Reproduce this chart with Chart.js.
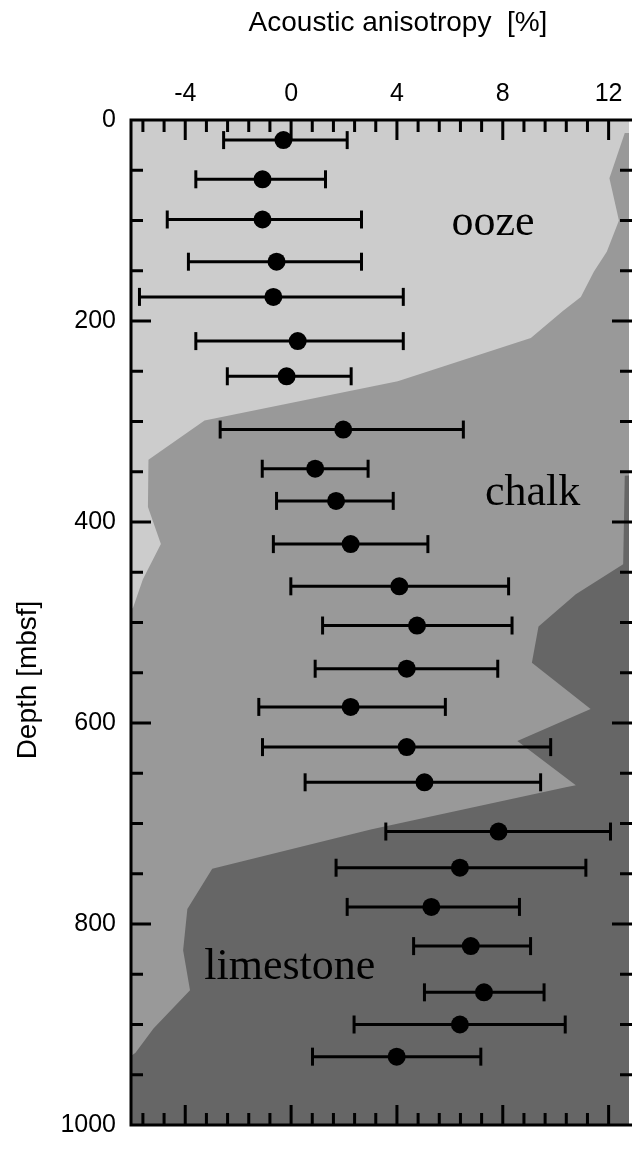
<!DOCTYPE html>
<html>
<head>
<meta charset="utf-8">
<script src="https://cdn.jsdelivr.net/npm/chart.js@4.4.1/dist/chart.umd.min.js"></script>
<style>
  html, body { margin: 0; padding: 0; background: #fff; overflow: hidden; }
  #wrap { width: 641px; height: 1155px; overflow: hidden; }
</style>
</head>
<body>
<div id="wrap"><canvas id="chart" width="641" height="1155"></canvas></div>
<script>
// measurements: depth (mbsf), anisotropy (%) and error bar ends
const depth   = [20, 59, 99, 141, 176, 220, 255, 308, 347, 379, 422, 464, 503, 546, 584, 624, 659, 708, 744, 783, 822, 868, 900, 932];
const aniso   = [-0.29, -1.08, -1.08, -0.55, -0.67, 0.25, -0.17, 1.97, 0.91, 1.70, 2.25, 4.09, 4.76, 4.37, 2.25, 4.37, 5.04, 7.84, 6.38, 5.30, 6.79, 7.29, 6.38, 3.99];
const errLow  = [-2.55, -3.60, -4.68, -3.88, -5.73, -3.60, -2.41, -2.68, -1.09, -0.55, -0.67, -0.01, 1.19, 0.91, -1.22, -1.08, 0.53, 3.58, 1.70, 2.12, 4.63, 5.04, 2.38, 0.81];
const errHigh = [2.12, 1.30, 2.66, 2.66, 4.24, 4.24, 2.27, 6.51, 2.91, 3.86, 5.17, 8.22, 8.35, 7.81, 5.83, 9.81, 9.43, 12.07, 11.14, 8.63, 9.05, 9.56, 10.36, 7.17];

// lithology outlines (x = anisotropy axis, y = depth)
const chalkX     = [13.5, 12.61, 12.03, 12.39, 11.93, 11.44, 10.95, 10.27, 9.06, 4.03, -3.27, -5.39, -5.41, -4.92, -5.60, -5.97, -6.5, -6.5, 13.5];
const chalkDepth = [13, 13, 58, 100, 131, 151, 176, 190, 217, 260, 299, 338, 385, 422, 457, 485, 500, 1010, 1010];
const limeX      = [13.5, 12.61, 12.55, 10.76, 9.35, 9.10, 11.32, 8.55, 10.76, 10.38, 3.01, -2.98, -3.92, -4.08, -3.82, -5.20, -5.88, -6.5, -6.5, 13.5];
const limeDepth  = [352, 354, 442, 472, 504, 540, 586, 618, 662, 664, 706, 745, 785, 826, 866, 904, 928, 940, 1010, 1010];

const xTickLabels = [-4, 0, 4, 8, 12];
const yTickLabels = [0, 200, 400, 600, 800, 1000];

const toPts = (xs, ys) => xs.map((v, i) => ({x: v, y: ys[i]}));
const isIn = (list, v) => list.some(t => Math.abs(t - v) < 1e-6);

const errBars = [];
depth.forEach((d, i) => {
    errBars.push({x: errLow[i], y: d}, {x: errHigh[i], y: d}, {x: null, y: null});
});

// the right frame line of the original lies just past the window edge
const RIGHT_OFF = 3;

const frame = {
    id: 'frame',
    beforeDatasetsDraw(chart) {
        const {ctx, chartArea: a} = chart;
        ctx.save();
        ctx.fillStyle = '#cccccc'; // ooze
        ctx.fillRect(a.left, a.top, a.width, a.height);
        ctx.restore();
    },
    afterDraw(chart) {
        const {ctx, chartArea: a, scales: {x, y}} = chart;
        const rx = a.right + RIGHT_OFF;
        ctx.save();
        ctx.strokeStyle = '#000';
        ctx.lineWidth = 3;
        ctx.beginPath();
        x.ticks.forEach(t => {
            const px = x.getPixelForValue(t.value);
            if (px < a.left + 2 || px > a.right) return;
            const len = isIn(xTickLabels, t.value) ? 20 : 12;
            ctx.moveTo(px, a.top); ctx.lineTo(px, a.top + len);
            ctx.moveTo(px, a.bottom); ctx.lineTo(px, a.bottom - len);
        });
        y.ticks.forEach(t => {
            const py = y.getPixelForValue(t.value);
            if (py < a.top + 2 || py > a.bottom - 2) return;
            const len = isIn(yTickLabels, t.value) ? 20 : 12;
            ctx.moveTo(a.left, py); ctx.lineTo(a.left + len, py);
            ctx.moveTo(rx, py); ctx.lineTo(rx - len, py);
        });
        // left, top and bottom frame lines
        ctx.moveTo(rx, a.top); ctx.lineTo(a.left, a.top); ctx.lineTo(a.left, a.bottom); ctx.lineTo(rx, a.bottom);
        ctx.stroke();

        // axis titles
        ctx.fillStyle = '#000';
        ctx.font = '28px "Liberation Sans", Arial, sans-serif';
        ctx.textAlign = 'center';
        ctx.textBaseline = 'alphabetic';
        ctx.fillText('Acoustic anisotropy  [%]', 398, 31);
        ctx.save();
        ctx.translate(28, 680);
        ctx.rotate(-Math.PI / 2);
        ctx.textBaseline = 'middle';
        ctx.fillText('Depth [mbsf]', 0, 0);
        ctx.restore();

        // lithology names
        ctx.font = '44px "Liberation Serif", "Times New Roman", serif';
        ctx.textAlign = 'left';
        ctx.textBaseline = 'alphabetic';
        ctx.fillText('ooze', x.getPixelForValue(6.06), y.getPixelForValue(114));
        ctx.fillText('chalk', x.getPixelForValue(7.33), y.getPixelForValue(383));
        ctx.fillText('limestone', x.getPixelForValue(-3.28), y.getPixelForValue(855));
        ctx.restore();
    }
};

new Chart(document.getElementById('chart'), {
    type: 'line',
    data: {
        datasets: [
            {
                label: 'chalk',
                data: toPts(chalkX, chalkDepth),
                backgroundColor: '#999999',
                borderWidth: 0,
                pointRadius: 0,
                fill: 'shape',
                tension: 0,
                order: 4
            },
            {
                label: 'limestone',
                data: toPts(limeX, limeDepth),
                backgroundColor: '#666666',
                borderWidth: 0,
                pointRadius: 0,
                fill: 'shape',
                tension: 0,
                order: 3
            },
            {
                label: 'error',
                data: errBars,
                borderColor: '#000',
                borderWidth: 3,
                spanGaps: false,
                fill: false,
                pointStyle: 'line',
                rotation: 90,
                pointRadius: 9,
                pointBorderWidth: 3,
                pointBorderColor: '#000',
                order: 2
            },
            {
                label: 'anisotropy',
                data: toPts(aniso, depth),
                showLine: false,
                pointRadius: 9,
                pointBackgroundColor: '#000',
                pointBorderWidth: 0,
                order: 1
            }
        ]
    },
    options: {
        responsive: false,
        animation: false,
        events: [],
        layout: { padding: { top: 0, left: 0, right: 0, bottom: 17 } },
        plugins: { legend: { display: false }, tooltip: { enabled: false } },
        scales: {
            x: {
                type: 'linear',
                position: 'top',
                min: -6.05,
                max: 12.77,
                grid: { display: false, drawTicks: false },
                border: { display: false },
                ticks: {
                    stepSize: 0.8,
                    includeBounds: false,
                    autoSkip: false,
                    maxRotation: 0,
                    padding: 11,
                    color: '#000',
                    font: { family: 'Liberation Sans', size: 25 },
                    callback: v => isIn(xTickLabels, v) ? String(Math.round(v)) : ''
                },
                afterFit: s => { s.height = 120; }
            },
            y: {
                type: 'linear',
                position: 'left',
                reverse: true,
                min: 0,
                max: 1000,
                grid: { display: false, drawTicks: false },
                border: { display: false },
                ticks: {
                    stepSize: 50,
                    autoSkip: false,
                    padding: 15,
                    color: '#000',
                    font: { family: 'Liberation Sans', size: 25 },
                    callback: v => isIn(yTickLabels, v) ? String(v) : ''
                },
                afterFit: s => { s.width = 131; }
            }
        }
    },
    plugins: [frame]
});
</script>
</body>
</html>
